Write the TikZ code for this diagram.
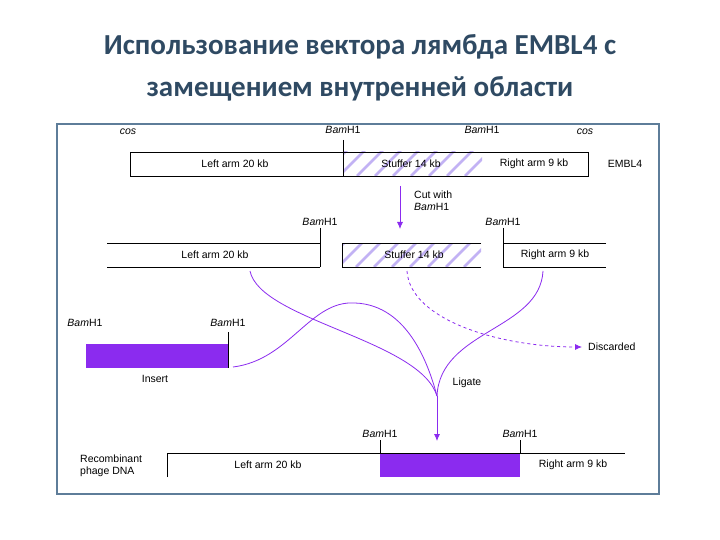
\documentclass[tikz,border=0pt]{standalone}
\usepackage{fontspec}
\setmainfont{Liberation Sans}
\newfontfamily\titlefont{Carlito}
\usetikzlibrary{arrows.meta}
\definecolor{pur}{HTML}{8B2BEF}
\definecolor{hat}{HTML}{C2B2F4}
\definecolor{frame}{HTML}{5E7D99}
\definecolor{ttl}{HTML}{2F4A63}
\tikzset{
  lbl/.style={font=\fontsize{10.5}{12}\selectfont, inner sep=0pt},
  bam/.style={lbl},
  conn/.style={pur, line width=0.8pt},
  tip/.style={-{Latex[length=7pt,width=6pt]}},
}
\newcommand{\bh}{\textit{Bam}H1}
\newcommand{\hatchbox}[4]{%
  \begin{scope}
  \clip (#1,#2) rectangle (#3,#4);
  \foreach \k in {-40,-22,...,200} {\draw[hat,line width=2.5pt] (#1+\k,#4) -- ++(30,-30);}
  \end{scope}}
\begin{document}
\begin{tikzpicture}[x=1pt,y=-1pt]
\useasboundingbox (0,0) rectangle (720,540);
\fill[white] (0,0) rectangle (720,540);
\node[font=\titlefont\bfseries\fontsize{29}{42}\selectfont, text=ttl, align=center] (title) at (360,68) {Использование вектора лямбда EMBL4 с\\замещением внутренней области};
\draw[frame, line width=1.8pt] (57,124) rectangle (659,494);

% top EMBL4
\hatchbox{343}{152}{482}{176}
\draw[line width=0.6pt] (130,152) rectangle (588,176);
\draw[line width=0.5pt] (343,140) -- (343,176);
\node[lbl,font=\fontsize{10.5}{12}\selectfont\itshape] (cos1) at (128,132) {cos};
\node[lbl,font=\fontsize{10.5}{12}\selectfont\itshape] (cos2) at (585,132) {cos};
\node[bam] (b1) at (343,130) {\bh};
\node[bam] (b2) at (482,130) {\bh};
\node[lbl] (l1) at (235,164) {Left arm 20 kb};
\node[lbl] (s1) at (411,164) {Stuffer 14 kb};
\node[lbl] (r1) at (534,164) {Right arm 9 kb};
\node[lbl] (e) at (625,164) {EMBL4};
\coordinate (cA) at (400,186);
\coordinate (cB) at (400,229);
\draw[conn,tip] (cA) -- (cB);
\node[lbl,align=left,anchor=west] (cut) at (414,201) {Cut with\\\bh};

% second row
\draw[line width=0.6pt] (107,243) -- (320,243) (107,267) -- (320,267);
\draw[line width=0.6pt] (320,228) -- (320,267);
\node[bam] (b3) at (320,222) {\bh};
\node[lbl] (l2) at (215,255) {Left arm 20 kb};
\hatchbox{342}{243}{481}{267}
\draw[line width=0.6pt] (481,243) -- (342,243) -- (342,267) -- (481,267);
\node[lbl] (s2) at (414,255) {Stuffer 14 kb};
\draw[line width=0.6pt] (606,243) -- (503,243) -- (503,267) -- (606,267);
\draw[line width=0.6pt] (503,228) -- (503,243);
\node[bam] (b4) at (503,222) {\bh};
\node[lbl] (r2) at (555,255) {Right arm 9 kb};

% insert
\fill[pur] (86,344) rectangle (228,368);
\draw[line width=0.5pt] (228,332) -- (228,368);
\node[bam] (b5) at (85,323) {\bh};
\node[bam] (b6) at (228,323) {\bh};
\node[lbl] (ins) at (155,379) {Insert};

% curves
\coordinate (lg) at (437,396);
\draw[conn] (250,271) .. controls (260,320) and (420,340) .. (lg);
\draw[conn] (543,271) .. controls (540,330) and (440,330) .. (lg);
\draw[conn] (233,367) .. controls (290,360) and (310,300) .. (355,303) .. controls (410,305) and (430,370) .. (lg);
\draw[conn,dashed,tip] (407,271) .. controls (410,320) and (500,347) .. (582,347);
\node[lbl,anchor=west] (disc) at (588,347) {Discarded};
\node[lbl] (lig) at (467,383) {Ligate};
\coordinate (lgE) at (437,441);
\draw[conn,tip] (lg) -- (lgE);

% bottom
\node[lbl,align=left,anchor=west] (rec) at (80,466) {Recombinant\\phage DNA};
\fill[pur] (380,453) rectangle (520,477);
\draw[line width=0.6pt] (167,477) -- (167,453) -- (625,453);
\draw[line width=0.5pt] (380,440) -- (380,453) (520,440) -- (520,453);
\node[bam] (b7) at (380,434) {\bh};
\node[bam] (b8) at (520,434) {\bh};
\node[lbl] (l3) at (268,465) {Left arm 20 kb};
\node[lbl] (r3) at (573,465) {Right arm 9 kb};
\end{tikzpicture}
\end{document}
